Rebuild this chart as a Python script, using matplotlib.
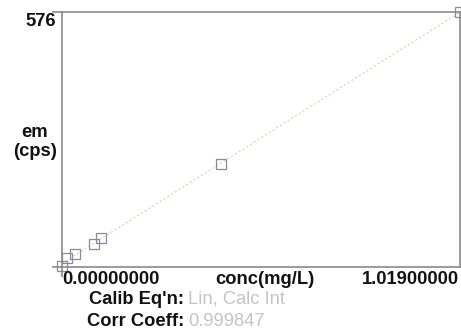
import numpy as np
import matplotlib
matplotlib.use("Agg")
import matplotlib.pyplot as plt

# calibration standards
conc = [0.0, 0.0125, 0.033, 0.083, 0.100, 0.407, 1.019]     # mg/L
em = [2, 20, 29, 52, 66, 233, 576]                           # cps
x_ticks = [0.0, 1.019]
x_tick_labels = ["0.00000000", "1.01900000"]
y_max = 576
calib_eqn = "Lin, Calc Int"
corr_coeff = "0.999847"

plt.rcParams["font.family"] = ["Liberation Sans", "DejaVu Sans"]
W, H = 461, 335
fig = plt.figure(figsize=(W / 100, H / 100), dpi=100)
ax = fig.add_axes([62 / W, 1 - 267 / H, 398 / W, 255 / H])

slope, icpt = np.polyfit(conc, em, 1)
xx = np.array([0.0, max(conc)])
ax.plot(xx, slope * xx + icpt, ls=(0, (2, 2)), lw=0.8, color="#d6d6a8", zorder=1)
ax.plot(conc, em, ls="none", marker="s", ms=7.5, mfc="none", mec="#8888a0",
        mew=0.9, zorder=2, clip_on=False)

ax.set_xlim(0, max(conc))
ax.set_ylim(0, y_max)
for s in ax.spines.values():
    s.set_color("#8a8a8a")
    s.set_linewidth(1.2)
ax.set_xticks([0.0])
ax.set_yticks([0, y_max])
ax.tick_params(axis="both", length=7, width=1.2, color="#8a8a8a",
               labelbottom=False, labelleft=False)

fs = 13.2
bold = dict(fontsize=fs, fontweight="bold", color="#111111")
fig.text(56 / W, 1 - 22 / H, str(y_max), ha="right", va="center", **bold)
fig.text(35 / W, 1 - 142 / H, "em\n(cps)", ha="center", va="center",
         linespacing=1.1, **bold)
fig.text(62 / W, 1 - 279 / H, x_tick_labels[0], ha="left", va="center", **bold)
fig.text(459 / W, 1 - 279 / H, x_tick_labels[1], ha="right", va="center", **bold)
fig.text(265 / W, 1 - 279 / H, "conc(mg/L)", ha="center", va="center", **bold)
fig.text(184 / W, 1 - 299 / H, "Calib Eq'n:", ha="right", va="center", **bold)
fig.text(188 / W, 1 - 299 / H, calib_eqn, ha="left", va="center",
         fontsize=fs, color="#c4c4c4")
fig.text(184 / W, 1 - 322 / H, "Corr Coeff:", ha="right", va="center", **bold)
fig.text(188 / W, 1 - 322 / H, corr_coeff, ha="left", va="center",
         fontsize=fs, color="#c4c4c4")

fig.savefig("out.png", dpi=100)
